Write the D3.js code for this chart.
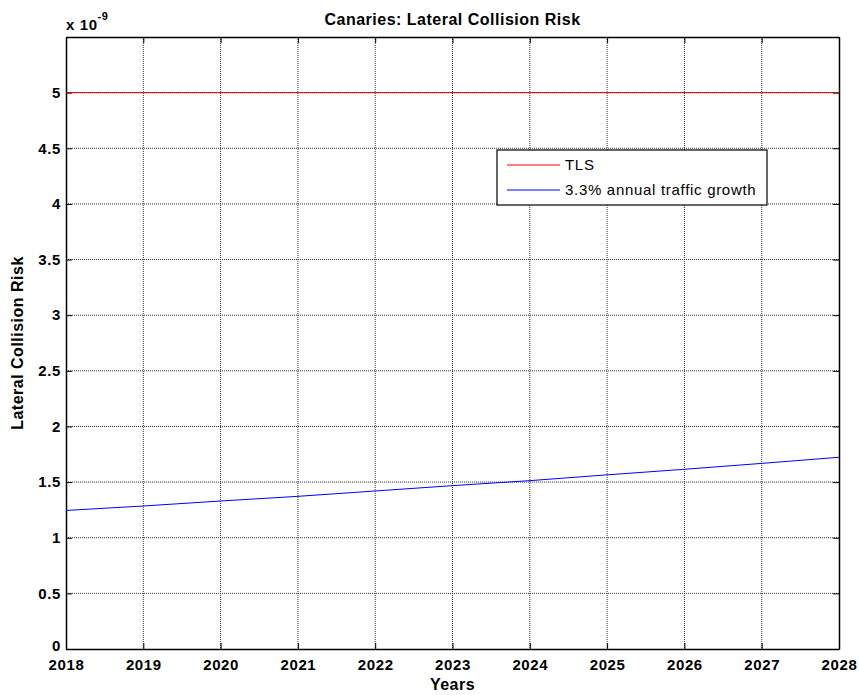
<!DOCTYPE html>
<html>
<head>
<meta charset="utf-8">
<script src="https://cdn.jsdelivr.net/npm/d3@7"></script>
<style>
  body { margin: 0; background: #fff; }
  text { font-family: "Liberation Sans", Arial, sans-serif; }
</style>
</head>
<body>
<div id="canvas"></div>
<script>
const years = [2018, 2019, 2020, 2021, 2022, 2023, 2024, 2025, 2026, 2027, 2028];
const growthRisk = [1.245, 1.285, 1.33, 1.372, 1.42, 1.468, 1.513, 1.565, 1.615, 1.668, 1.723];
const tlsRisk = [5, 5, 5, 5, 5, 5, 5, 5, 5, 5, 5];
const yTicks = [0, 0.5, 1, 1.5, 2, 2.5, 3, 3.5, 4, 4.5, 5];
const seriesNames = ["TLS", "3.3% annual traffic growth"];

const width = 859;
const height = 695;
const margin = { top: 37, left: 66, bottom: 46, right: 20 };
const iwidth = width - margin.left - margin.right;
const iheight = height - margin.top - margin.bottom;

const svg = d3.select("#canvas")
  .append("svg")
  .attr("width", width)
  .attr("height", height);

const g = svg.append("g")
  .attr("transform", `translate(${margin.left},${margin.top})`);

const x = d3.scaleLinear().domain([2018, 2028]).range([0, iwidth]);
const y = d3.scaleLinear().domain([0, 5.5]).range([iheight, 0]);

// grid
g.append("g")
  .selectAll("line")
  .data(years.slice(1, -1))
  .join("line")
  .attr("x1", d => x(d)).attr("x2", d => x(d))
  .attr("y1", 0).attr("y2", iheight)
  .attr("stroke", "#333")
  .attr("stroke-width", 1)
  .attr("stroke-dasharray", "1,1");

g.append("g")
  .selectAll("line")
  .data(yTicks.slice(1))
  .join("line")
  .attr("x1", 0).attr("x2", iwidth)
  .attr("y1", d => y(d)).attr("y2", d => y(d))
  .attr("stroke", "#333")
  .attr("stroke-width", 1)
  .attr("stroke-dasharray", "1,1");

// axes, ticks inward
const xAxis = g.append("g")
  .attr("transform", `translate(0,${iheight})`)
  .call(d3.axisBottom(x).tickValues(years).tickFormat(d3.format("d")).tickSizeInner(-6).tickSizeOuter(0).tickPadding(10));
const xTop = g.append("g")
  .call(d3.axisTop(x).tickValues(years).tickFormat("").tickSizeInner(-6).tickSizeOuter(0));
const yAxis = g.append("g")
  .call(d3.axisLeft(y).tickValues(yTicks).tickFormat(d => d).tickSizeInner(-6).tickSizeOuter(0).tickPadding(5));
const yRight = g.append("g")
  .attr("transform", `translate(${iwidth},0)`)
  .call(d3.axisRight(y).tickValues(yTicks).tickFormat("").tickSizeInner(-6).tickSizeOuter(0));

[xAxis, xTop, yAxis, yRight].forEach(a => {
  a.select(".domain").attr("stroke", "#000").attr("stroke-width", 1.5);
  a.selectAll(".tick line").attr("stroke", "#000");
  a.selectAll("text")
    .attr("fill", "#000")
    .style("font-family", "'Liberation Sans', Arial, sans-serif")
    .style("font-size", "15px")
    .style("letter-spacing", "0.6px")
    .style("font-weight", "bold");
});
// the "0" label sits right on the corner, lift it a touch
yAxis.selectAll(".tick text").filter(d => d === 0).attr("dy", "0.1em");

// lines
const line = d3.line()
  .x((d, i) => x(years[i]))
  .y(d => y(d));

g.append("path")
  .datum(tlsRisk)
  .attr("fill", "none")
  .attr("stroke", "#e00000")
  .attr("stroke-width", 1)
  .attr("d", line);

g.append("path")
  .datum(growthRisk)
  .attr("fill", "none")
  .attr("stroke", "#0000ff")
  .attr("stroke-width", 1)
  .attr("d", line);

// legend
const legend = svg.append("g").attr("transform", "translate(497,150)");
legend.append("rect")
  .attr("width", 270).attr("height", 55)
  .attr("fill", "#fff").attr("stroke", "#000").attr("stroke-width", 1.2);
const colors = ["#ff0000", "#0000ff"];
seriesNames.forEach((name, i) => {
  legend.append("line")
    .attr("x1", 10).attr("x2", 63)
    .attr("y1", 15 + i * 25).attr("y2", 15 + i * 25)
    .attr("stroke", colors[i]);
  legend.append("text")
    .attr("x", 68).attr("y", 15 + i * 25)
    .attr("dy", "0.35em")
    .style("font-size", "15px")
    .style("letter-spacing", "0.7px")
    .text(name);
});

// labels
svg.append("text")
  .attr("x", margin.left + iwidth / 2)
  .attr("y", 25)
  .attr("text-anchor", "middle")
  .style("font-size", "16px")
  .style("letter-spacing", "0.5px")
  .style("font-weight", "bold")
  .text("Canaries: Lateral Collision Risk");

svg.append("text")
  .attr("x", margin.left + iwidth / 2)
  .attr("y", 690)
  .attr("text-anchor", "middle")
  .style("font-size", "16px")
  .style("letter-spacing", "0.5px")
  .style("font-weight", "bold")
  .text("Years");

svg.append("text")
  .attr("transform", `translate(23,${margin.top + iheight / 2}) rotate(-90)`)
  .attr("text-anchor", "middle")
  .style("font-size", "16px")
  .style("letter-spacing", "0.5px")
  .style("font-weight", "bold")
  .text("Lateral Collision Risk");

const exp = svg.append("text")
  .attr("x", 66).attr("y", 30)
  .style("font-size", "15px")
  .style("letter-spacing", "0.6px")
  .style("font-weight", "bold");
exp.append("tspan").text("x 10");
exp.append("tspan").attr("dy", -10).style("font-size", "11px").text("-9");
</script>
</body>
</html>
